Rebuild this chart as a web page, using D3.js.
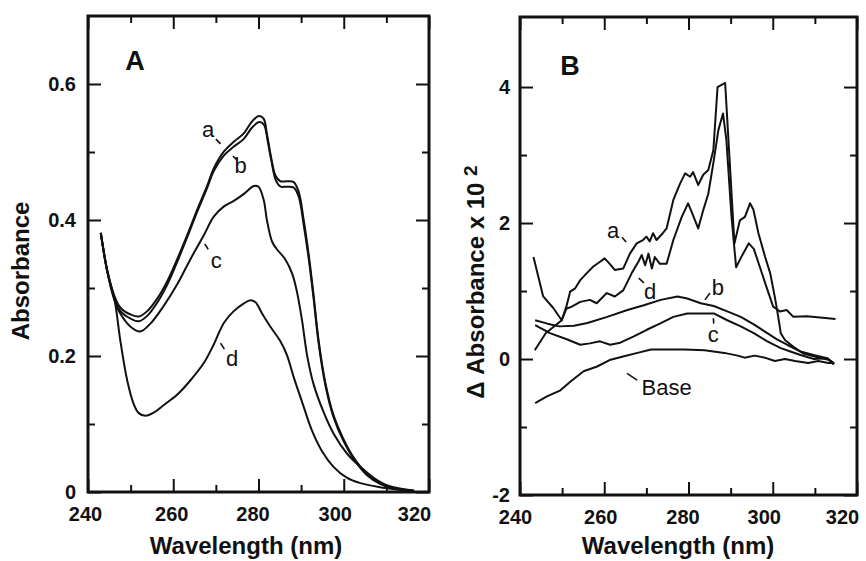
<!DOCTYPE html>
<html lang="en">
  <head>
    <meta charset="utf-8"/>
    <script src="https://d3js.org/d3.v7.min.js"></script>
    <title>Absorbance spectra</title>
    <style>
      body { margin: 0; background: #fff; }
      text { font-family: "Liberation Sans", Arial, Helvetica, sans-serif; fill: #111; }
    </style>
  </head>
  <body>
    <svg id="chart"></svg>
    <script>
    // ---- panel A : absorbance spectra  [wavelength nm, absorbance]
    const specA_a = [[243.0,0.381],[244.5,0.326],[246.1,0.290],[247.6,0.271],[250,0.261],[251.9,0.258],[253.9,0.266],[256.2,0.284],[258.6,0.310],[260.9,0.342],[263.3,0.378],[265.6,0.415],[268,0.451],[269.5,0.476],[271.9,0.501],[274.2,0.515],[276.5,0.527],[278.5,0.545],[280.1,0.553],[281.2,0.549],[282,0.526],[282.9,0.494],[284,0.465],[285.1,0.457],[286.7,0.457],[288.2,0.456],[289.4,0.442],[290.6,0.400],[291.8,0.348],[292.9,0.291],[294.1,0.223],[295.7,0.160],[297.6,0.113],[300,0.077],[302.3,0.051],[305.4,0.027],[308.5,0.013],[311.7,0.006],[316.5,0.002]];
    const specA_b = [[243.0,0.381],[244.5,0.325],[246.1,0.287],[247.6,0.266],[250,0.255],[251.9,0.251],[253.9,0.259],[256.2,0.278],[258.6,0.305],[260.9,0.338],[263.3,0.375],[265.6,0.412],[268,0.448],[269.5,0.472],[271.9,0.495],[274.2,0.508],[276.5,0.519],[278.5,0.536],[280.2,0.544],[281.3,0.540],[282.1,0.518],[283,0.488],[284.1,0.458],[285.2,0.449],[286.7,0.449],[288.2,0.448],[289.4,0.435],[290.6,0.393],[291.8,0.342],[292.9,0.286],[294.1,0.219],[295.7,0.157],[297.6,0.110],[300,0.074],[302.3,0.049],[305.4,0.025],[308.5,0.012],[311.7,0.005],[316.5,0.002]];
    const specA_c = [[243.0,0.381],[244.5,0.325],[246.1,0.284],[247.6,0.262],[250,0.243],[252.2,0.236],[254.7,0.248],[257.8,0.274],[260.9,0.305],[264,0.342],[267.2,0.378],[269.5,0.405],[271.9,0.420],[274.2,0.428],[276.5,0.438],[278.9,0.450],[280,0.449],[281.2,0.430],[282,0.399],[283.2,0.368],[284.3,0.357],[286.3,0.342],[287.9,0.321],[289,0.295],[290.2,0.253],[291.4,0.201],[292.9,0.159],[295.3,0.117],[297.6,0.086],[300.7,0.057],[303.9,0.037],[307,0.021],[310.1,0.010],[313.2,0.005],[316.5,0.002]];
    const specA_d = [[243.0,0.381],[244.5,0.326],[246.3,0.280],[247.6,0.222],[249.2,0.164],[250.8,0.128],[251.9,0.116],[253.5,0.112],[255.5,0.117],[257.8,0.128],[260.9,0.143],[264,0.164],[267.2,0.190],[269.5,0.217],[271.9,0.249],[274.2,0.266],[276.5,0.277],[278.1,0.282],[279.3,0.279],[280.8,0.263],[282.8,0.243],[285.1,0.222],[286.7,0.201],[288.2,0.170],[290.2,0.133],[292.5,0.091],[294.9,0.060],[297.6,0.037],[300.7,0.021],[303.9,0.013],[308.5,0.007],[312,0.004],[315,0.002]];

    // ---- panel B : difference spectra  [wavelength nm, delta absorbance x 10^2]
    const diffB_a = [[243.2,1.50],[245.5,0.92],[247.9,0.75],[249.9,0.57],[251,0.77],[251.9,0.99],[253.1,1.04],[254.3,1.16],[255.8,1.26],[257.4,1.36],[259,1.43],[260.1,1.48],[261.3,1.40],[262.5,1.31],[264.5,1.33],[266.1,1.55],[267.7,1.70],[269.2,1.75],[270,1.80],[270.8,1.73],[271.6,1.85],[272.4,1.75],[273.9,1.85],[274.8,1.92],[276.4,2.34],[278,2.58],[279.2,2.73],[280.4,2.68],[281.1,2.75],[282.3,2.56],[283.5,2.71],[284.7,2.78],[285.9,3.07],[286.9,4.00],[288.7,4.06],[289.6,3.10],[290.9,1.70],[292.2,2.04],[293.4,2.09],[294.6,2.29],[295.4,2.20],[296.6,1.85],[298.2,1.50],[299.4,1.26],[300.5,0.91],[301.3,0.62],[301.9,0.38],[302.9,0.28],[304.9,0.18],[307.3,0.08],[310.4,0.03],[313.2,-0.01],[314.6,-0.07]];
    const diffB_d = [[243.5,0.13],[246.1,0.38],[249.9,0.57],[251,0.74],[252.3,0.77],[254.3,0.84],[256.6,0.87],[258.2,0.82],[260.6,0.97],[262.5,0.92],[264.5,1.01],[266.5,1.26],[268.1,1.43],[268.9,1.53],[269.7,1.38],[270.5,1.55],[271.3,1.33],[272,1.50],[273.2,1.40],[274.8,1.40],[276.4,1.75],[278.4,2.09],[279.9,2.29],[280.7,2.17],[282.3,1.92],[283.5,2.19],[284.7,2.43],[285.9,2.88],[287.1,3.37],[288.2,3.61],[289,3.22],[290.2,2.10],[291.3,1.35],[292.7,1.52],[294.3,1.70],[295.5,1.62],[296.9,1.36],[298.5,1.06],[300.1,0.77],[301.7,0.70],[303.3,0.72],[304.9,0.62],[308.1,0.63],[311.2,0.61],[314.9,0.59]];
    const diffB_b = [[243.6,0.57],[246.5,0.52],[249.3,0.48],[252.8,0.49],[256,0.53],[260.7,0.62],[265.5,0.72],[269.4,0.79],[273.4,0.87],[277.4,0.92],[279.7,0.89],[282.9,0.82],[286,0.78],[289.2,0.70],[292.4,0.62],[295.5,0.51],[298.7,0.38],[301,0.29],[303.4,0.21],[306.6,0.11],[309.7,0.06],[312.9,0.01],[314.5,-0.06]];
    const diffB_c = [[243.6,0.50],[247.1,0.38],[251.1,0.29],[254.3,0.21],[256.6,0.23],[259,0.26],[261.4,0.21],[263.8,0.24],[266.9,0.33],[270.1,0.43],[273.2,0.52],[276.4,0.62],[279.7,0.67],[282.9,0.67],[286,0.67],[289.2,0.57],[292.4,0.48],[295.5,0.38],[298.7,0.26],[301.9,0.16],[304.2,0.11],[306.6,0.06],[309.8,0.00],[313,0.01],[314.5,-0.08]];
    const diffB_base = [[243.6,-0.65],[246.4,-0.55],[249.6,-0.46],[252,-0.33],[255.1,-0.18],[258.3,-0.11],[261.5,-0.01],[264.7,0.04],[267.9,0.09],[271.1,0.14],[274.3,0.14],[279,0.14],[283.8,0.13],[288.5,0.09],[291.7,0.05],[293.3,0.02],[295.7,0.05],[298.1,0.02],[300.5,-0.03],[302.9,0.00],[305.3,-0.03],[308.4,-0.06],[310.8,-0.03],[313.2,-0.06],[314.6,-0.06]];

    // tick values
    const xMajor = [240, 260, 280, 300, 320];
    const xMinor = [250, 270, 290, 310];
    const yMajorA = [0, 0.2, 0.4, 0.6];
    const yMinorA = [0.1, 0.3, 0.5];
    const yMajorB = [-2, 0, 2, 4];
    const yMinorB = [-1, 1, 3];

    // curve labels: text position + little leader dash, in data units
    const labelsA = [
      {t: "a", x: 268.2, y: 0.534, l: [[270.0, 0.519], [271.1, 0.512]]},
      {t: "b", x: 275.8, y: 0.481, l: [[274.0, 0.494], [275.0, 0.488]]},
      {t: "c", x: 270.1, y: 0.341, l: [[267.4, 0.365], [268.2, 0.357]]},
      {t: "d", x: 273.8, y: 0.196, l: [[271.1, 0.219], [272.0, 0.210]]}
    ];
    const labelsB = [
      {t: "a", x: 262.1, y: 1.90, l: [[264.2, 1.79], [265.2, 1.72]]},
      {t: "d", x: 270.9, y: 0.99, l: [[268.2, 1.19], [269.4, 1.12]]},
      {t: "b", x: 287.0, y: 1.06, l: [[283.9, 0.87], [285.1, 0.97]]},
      {t: "c", x: 285.9, y: 0.36, l: [[285.9, 0.60], [286.0, 0.52]]},
      {t: "Base", x: 274.8, y: -0.41, l: [[265.4, -0.21], [267.8, -0.31]]}
    ];

    const W = 866, H = 561;
    const svg = d3.select("#chart").attr("width", W).attr("height", H);

    const drawPanel = (p) => {
      const x = d3.scaleLinear().domain([240, 320]).range([p.left, p.right]);
      const y = d3.scaleLinear().domain(p.yDomain).range([p.bottom, p.top]);
      const g = svg.append("g");

      const addAxis = (axis, tr, labels) => {
        const a = g.append("g").attr("transform", tr).call(axis);
        a.select(".domain").remove();
        a.selectAll("line").attr("stroke", "#111").attr("stroke-width", 2);
        a.selectAll("text")
          .style("font-size", "20px").style("font-weight", "bold")
          .attr("fill", "#111");
        if (!labels) a.selectAll("text").remove();
        return a;
      };
      const fmt = (d) => String(d);

      const xAx = addAxis(d3.axisBottom(x).tickValues(xMajor).tickSizeInner(-13).tickSizeOuter(0)
        .tickPadding(15).tickFormat(fmt), `translate(0,${p.bottom})`, true);
      // the printed labels sit a little left of their ticks toward the right end
      xAx.selectAll("text").attr("dx", (d, i) => p.xLabelShift[i]);
      addAxis(d3.axisBottom(x).tickValues(xMinor).tickSizeInner(-7).tickSizeOuter(0),
        `translate(0,${p.bottom})`, false);
      addAxis(d3.axisTop(x).tickValues(xMajor).tickSizeInner(-13).tickSizeOuter(0),
        `translate(0,${p.top})`, false);
      addAxis(d3.axisTop(x).tickValues(xMinor).tickSizeInner(-7).tickSizeOuter(0),
        `translate(0,${p.top})`, false);
      addAxis(d3.axisLeft(y).tickValues(p.yMajor).tickSizeInner(-13).tickSizeOuter(0)
        .tickPadding(p.yPad).tickFormat(fmt), `translate(${p.left},0)`, true);
      addAxis(d3.axisLeft(y).tickValues(p.yMinor).tickSizeInner(-7).tickSizeOuter(0),
        `translate(${p.left},0)`, false);
      addAxis(d3.axisRight(y).tickValues(p.yMajor).tickSizeInner(-13).tickSizeOuter(0),
        `translate(${p.right},0)`, false);
      addAxis(d3.axisRight(y).tickValues(p.yMinor).tickSizeInner(-7).tickSizeOuter(0),
        `translate(${p.right},0)`, false);

      // frame
      g.append("rect")
        .attr("x", p.left).attr("y", p.top)
        .attr("width", p.right - p.left).attr("height", p.bottom - p.top)
        .attr("fill", "none").attr("stroke", "#111").attr("stroke-width", 3);

      const line = d3.line()
        .x((d) => x(d[0]))
        .y((d) => y(d[1]))
        .curve(p.curve);

      g.selectAll("path.spec")
        .data(p.series)
        .enter()
        .append("path")
          .attr("class", "spec")
          .attr("d", line)
          .attr("fill", "none")
          .attr("stroke", "#111")
          .attr("stroke-width", 2)
          .attr("stroke-linejoin", "round");

      // curve labels
      g.selectAll("line.lead")
        .data(p.labels)
        .enter()
        .append("line")
          .attr("x1", (d) => x(d.l[0][0])).attr("y1", (d) => y(d.l[0][1]))
          .attr("x2", (d) => x(d.l[1][0])).attr("y2", (d) => y(d.l[1][1]))
          .attr("stroke", "#111").attr("stroke-width", 1.6);
      g.selectAll("text.lab")
        .data(p.labels)
        .enter()
        .append("text")
          .attr("x", (d) => x(d.x)).attr("y", (d) => y(d.y))
          .attr("dy", "0.35em")
          .attr("text-anchor", "middle")
          .style("font-size", "22px")
          .text((d) => d.t);

      // panel letter
      g.append("text")
        .attr("x", p.letter[0]).attr("y", p.letter[1])
        .attr("text-anchor", "middle")
        .style("font-size", "27px").style("font-weight", "bold")
        .text(p.name);

      // x title
      g.append("text")
        .attr("x", p.xTitle[0]).attr("y", 554)
        .attr("text-anchor", "middle")
        .style("font-size", "24px").style("font-weight", "bold")
        .text("Wavelength (nm)");

      return g;
    };

    const gA = drawPanel({
      name: "A", left: 88, right: 429, top: 16, bottom: 492,
      yDomain: [0, 0.7], yMajor: yMajorA, yMinor: yMinorA, yPad: 12,
      series: [specA_a, specA_b, specA_c, specA_d],
      curve: d3.curveCatmullRom.alpha(0.5),
      labels: labelsA, letter: [135, 70], xTitle: [246],
      xLabelShift: [-3, -2, -6, -9, -15]
    });
    gA.append("text")
      .attr("transform", "translate(29,271) rotate(-90)")
      .attr("text-anchor", "middle")
      .style("font-size", "24px").style("font-weight", "bold")
      .text("Absorbance");

    const gB = drawPanel({
      name: "B", left: 520, right: 857, top: 17, bottom: 495,
      yDomain: [-2, 5.03], yMajor: yMajorB, yMinor: yMinorB, yPad: 10,
      series: [diffB_a, diffB_d, diffB_b, diffB_c, diffB_base],
      curve: d3.curveLinear,
      labels: labelsB, letter: [570, 75], xTitle: [678],
      xLabelShift: [-5, -4, -6, -9, -15]
    });
    const tB = gB.append("text")
      .attr("transform", "translate(484,282) rotate(-90)")
      .attr("text-anchor", "middle")
      .style("font-size", "24px").style("font-weight", "bold");
    tB.append("tspan").text("\u0394 Absorbance x 10 ");
    tB.append("tspan").attr("dy", -7).style("font-size", "19px").text("2");
    </script>
  </body>
</html>
